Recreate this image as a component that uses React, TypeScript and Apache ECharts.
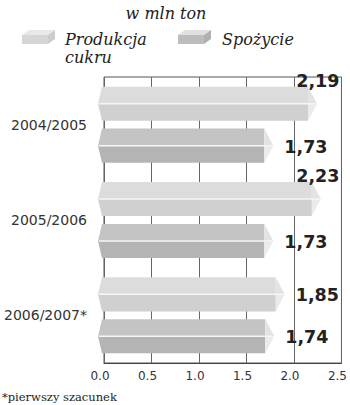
import React, { useEffect, useRef } from 'react';
import * as echarts from 'echarts';

const categories = ['2004/2005', '2005/2006', '2006/2007*'];
const produkcja = [2.19, 2.23, 1.85];
const spozycie = [1.73, 1.73, 1.74];
const seriesNames = ['Produkcja cukru', 'Spożycie'];
const legendTexts = ['Produkcja\ncukru', 'Spożycie'];
const unitLabel = 'w mln ton';
const footnote = '*pierwszy szacunek';
const xMin = 0;
const xMax = 2.5;
const xStep = 0.5;

const fmt = (v: number) => v.toFixed(2).replace('.', ',');
const LABEL_FONT = 'bold 17.5px "DejaVu Sans"';

let measureCtx: CanvasRenderingContext2D | null = null;
function textWidth(t: string, font: string) {
  if (!measureCtx) measureCtx = document.createElement('canvas').getContext('2d');
  if (!measureCtx) return t.length * 11;
  measureCtx.font = font;
  return measureCtx.measureText(t).width;
}

function makeRender(offset: number, topColor: string, bottomColor: string) {
  return (_params: any, api: any) => {
    const val = api.value(0);
    const cat = api.value(1);
    const start = api.coord([0, cat]);
    const end = api.coord([val, cat]);
    const band = api.size([0, 1])[1];
    const h = band * 0.357;
    const cy = start[1] + offset * band;
    const t = cy - h / 2;
    const b = cy + h / 2;
    const xl = start[0] - 2;
    const tl = start[0] - 6;
    const xr = end[0] - 4;
    const tr = end[0] + 5;
    const gridRight = api.coord([xMax, cat])[0];
    const text = fmt(val);
    const tw = textWidth(text, LABEL_FONT);
    const fits = tr + 11 + tw <= gridRight;
    const label = fits
      ? { type: 'text', x: tr + 11, y: cy + 1, style: { text, font: LABEL_FONT, fill: '#222', align: 'left', verticalAlign: 'middle' } }
      : { type: 'text', x: gridRight - 2, y: t + 3, style: { text, font: LABEL_FONT, fill: '#222', align: 'right', verticalAlign: 'bottom' } };
    return {
      type: 'group',
      children: [
        { type: 'polygon', shape: { points: [[tl, cy], [xl, t], [xr, t], [xr, cy]] }, style: { fill: topColor } },
        { type: 'polygon', shape: { points: [[tl, cy], [xl, b], [xr, b], [xr, cy]] }, style: { fill: bottomColor } },
        { type: 'polygon', shape: { points: [[xr, t], [tr, cy], [xr, cy]] }, style: { fill: '#e3e3e3' } },
        { type: 'polygon', shape: { points: [[xr, cy], [tr, cy], [xr, b]] }, style: { fill: '#ebebeb' } },
        { type: 'line', shape: { x1: tl + 1, y1: cy, x2: tr - 1, y2: cy }, style: { stroke: '#f6f6f6', lineWidth: 1.5 } },
        label,
      ],
    };
  };
}

function box(x: number, y: number, top: string, front: string, side: string) {
  return [
    { type: 'polygon', shape: { points: [[x, y + 5], [x + 7, y], [x + 33, y], [x + 26, y + 5]] }, style: { fill: top } },
    { type: 'polygon', shape: { points: [[x, y + 5], [x + 26, y + 5], [x + 26, y + 14], [x, y + 14]] }, style: { fill: front } },
    { type: 'polygon', shape: { points: [[x + 26, y + 5], [x + 33, y], [x + 33, y + 9], [x + 26, y + 14]] }, style: { fill: side } },
  ];
}

export default function App() {
  const ref = useRef<HTMLDivElement>(null);
  useEffect(() => {
    if (!ref.current) return;
    const chart = echarts.init(ref.current, undefined, { renderer: 'svg' });
    const legendFont = 'italic 16px "DejaVu Serif"';
    chart.setOption({
      animation: false,
      backgroundColor: '#ffffff',
      grid: { left: 104, right: 7, top: 77, bottom: 42, show: true, borderColor: '#555', borderWidth: 1, backgroundColor: 'transparent' },
      xAxis: {
        type: 'value',
        min: xMin,
        max: xMax,
        interval: xStep,
        axisLine: { show: true, lineStyle: { color: '#444', width: 1 } },
        axisTick: { show: false },
        splitLine: { show: true, lineStyle: { color: '#666', width: 1 } },
        axisLabel: {
          formatter: (v: number) => v.toFixed(1),
          color: '#333',
          fontSize: 12,
          fontFamily: 'DejaVu Sans',
          margin: 7,
          padding: [0, 8, 0, 0],
        },
      },
      yAxis: {
        type: 'category',
        data: categories,
        inverse: true,
        axisLine: { show: false },
        axisTick: { show: false },
        splitLine: { show: false },
        axisLabel: { color: '#333', fontSize: 14, fontFamily: 'DejaVu Sans', margin: 17 },
      },
      series: [
        {
          name: seriesNames[0],
          type: 'custom',
          clip: false,
          encode: { x: 0, y: 1 },
          data: produkcja.map((v, i) => [v, i]),
          renderItem: makeRender(-0.22, '#dcdcdc', '#d0d0d0'),
        },
        {
          name: seriesNames[1],
          type: 'custom',
          clip: false,
          encode: { x: 0, y: 1 },
          data: spozycie.map((v, i) => [v, i]),
          renderItem: makeRender(0.22, '#c4c4c4', '#b4b4b4'),
        },
      ],
      graphic: [
        { type: 'text', x: 166, y: 13, style: { text: unitLabel, font: legendFont, fill: '#222', align: 'center', verticalAlign: 'middle' } },
        ...box(22, 30, '#e8e8e8', '#d6d6d6', '#cccccc'),
        { type: 'text', x: 65, y: 30.5, style: { text: legendTexts[0], font: legendFont, fill: '#222', align: 'left', verticalAlign: 'top', lineHeight: 18 } },
        ...box(178, 30, '#e0e0e0', '#bdbdbd', '#b0b0b0'),
        { type: 'text', x: 222, y: 30.5, style: { text: legendTexts[1], font: legendFont, fill: '#222', align: 'left', verticalAlign: 'top', lineHeight: 18 } },
        { type: 'text', x: 2, y: 397, style: { text: footnote, font: '11.5px "DejaVu Serif"', fill: '#222', align: 'left', verticalAlign: 'middle' } },
      ],
    });
    return () => chart.dispose();
  }, []);
  return <div ref={ref} style={{ position: 'absolute', left: 0, top: 0, width: 350, height: 405 }} />;
}
